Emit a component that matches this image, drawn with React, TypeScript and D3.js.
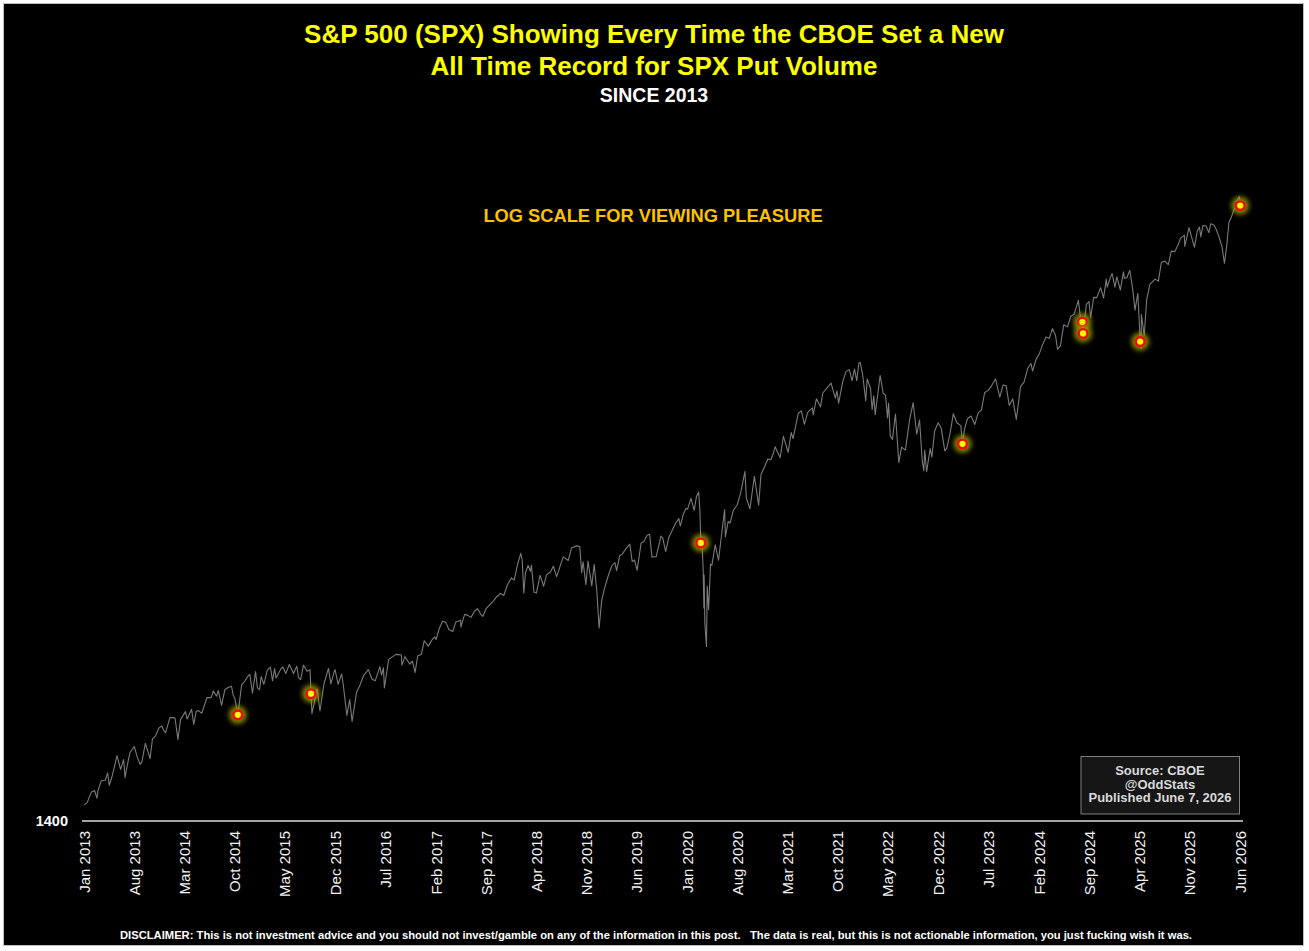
import React from 'react';
import * as d3 from 'd3';

// SPX closes (approx.) per year, [month-day, value]
const spx2013: [string, number][] = [
  ['01-02', 1462], ['01-15', 1472], ['02-01', 1513], ['02-15', 1519], ['02-25', 1488], ['03-01', 1518], ['03-15', 1560],
  ['04-01', 1562], ['04-11', 1593], ['04-18', 1541], ['05-01', 1582], ['05-21', 1669], ['06-05', 1608], ['06-18', 1651],
  ['06-24', 1573], ['07-01', 1614], ['07-15', 1683], ['08-02', 1710], ['08-15', 1661], ['08-27', 1630], ['09-03', 1640],
  ['09-18', 1725], ['10-08', 1655], ['10-18', 1745], ['11-01', 1761], ['11-15', 1798], ['11-27', 1807], ['12-05', 1785],
  ['12-13', 1775], ['12-31', 1848]
];
const spx2014: [string, number][] = [
  ['01-15', 1848], ['01-22', 1845], ['02-03', 1742], ['02-14', 1838], ['03-07', 1878], ['03-14', 1841], ['04-02', 1890],
  ['04-11', 1815], ['04-22', 1880], ['05-01', 1883], ['05-15', 1870], ['06-06', 1950], ['06-24', 1950], ['07-03', 1985],
  ['07-17', 1958], ['07-24', 1988], ['08-07', 1910], ['08-21', 1992], ['09-02', 2002], ['09-18', 2011], ['09-25', 1965],
  ['10-02', 1946], ['10-15', 1862], ['10-31', 2018], ['11-14', 2039], ['11-28', 2068], ['12-05', 2075], ['12-16', 1973],
  ['12-29', 2091]
];
const spx2015: [string, number][] = [
  ['01-06', 2002], ['01-15', 1992], ['01-22', 2063], ['02-02', 2021], ['02-17', 2100], ['03-02', 2117], ['03-11', 2040],
  ['03-20', 2108], ['03-26', 2056], ['04-15', 2106], ['04-24', 2117], ['05-06', 2080], ['05-21', 2131], ['06-08', 2080],
  ['06-22', 2122], ['06-29', 2058], ['07-08', 2046], ['07-20', 2128], ['08-04', 2093], ['08-17', 2102], ['08-21', 1971],
  ['08-25', 1868], ['09-16', 1996], ['09-28', 1881], ['10-15', 2023], ['11-03', 2109], ['11-13', 2023], ['11-27', 2090],
  ['12-01', 2102], ['12-14', 2021], ['12-29', 2078]
];
const spx2016: [string, number][] = [
  ['01-05', 2016], ['01-20', 1859], ['02-01', 1940], ['02-11', 1829], ['03-01', 1978], ['03-15', 2015], ['04-01', 2072],
  ['04-20', 2102], ['05-05', 2050], ['05-19', 2040], ['06-08', 2119], ['06-15', 2072], ['06-23', 2113], ['06-27', 2001],
  ['07-15', 2161], ['08-15', 2190], ['09-07', 2186], ['09-09', 2128], ['09-22', 2177], ['10-13', 2133], ['10-24', 2151],
  ['11-04', 2085], ['11-15', 2180], ['12-01', 2191], ['12-13', 2272], ['12-30', 2239]
];
const spx2017: [string, number][] = [
  ['01-13', 2274], ['01-26', 2296], ['02-01', 2279], ['02-15', 2349], ['03-01', 2395], ['03-15', 2385], ['03-27', 2341],
  ['04-13', 2329], ['04-25', 2388], ['05-16', 2400], ['05-17', 2357], ['06-02', 2439], ['06-15', 2432], ['06-29', 2419],
  ['07-14', 2459], ['07-26', 2477], ['08-10', 2438], ['08-18', 2425], ['09-01', 2476], ['09-15', 2500], ['10-02', 2529],
  ['10-16', 2557], ['11-01', 2579], ['11-15', 2565], ['12-01', 2642], ['12-18', 2690], ['12-29', 2674]
];
const spx2018: [string, number][] = [
  ['01-12', 2786], ['01-26', 2873], ['02-01', 2821], ['02-08', 2581], ['02-15', 2731], ['02-26', 2780], ['03-08', 2738],
  ['03-12', 2783], ['03-23', 2588], ['04-02', 2582], ['04-18', 2708], ['05-03', 2630], ['05-15', 2711], ['06-01', 2734],
  ['06-13', 2775], ['06-27', 2699], ['07-16', 2798], ['07-25', 2846], ['08-15', 2818], ['08-29', 2914], ['09-20', 2931],
  ['10-03', 2926], ['10-11', 2728], ['10-17', 2809], ['10-29', 2641], ['11-07', 2814], ['11-23', 2633], ['12-03', 2790],
  ['12-14', 2600], ['12-24', 2351]
];
const spx2019: [string, number][] = [
  ['01-04', 2532], ['01-15', 2610], ['02-01', 2707], ['02-15', 2775], ['03-01', 2803], ['03-08', 2743], ['03-21', 2854],
  ['04-01', 2867], ['04-15', 2905], ['05-03', 2945], ['05-13', 2811], ['05-23', 2822], ['06-03', 2744], ['06-20', 2954],
  ['07-01', 2964], ['07-15', 3014], ['07-26', 3025], ['08-05', 2844], ['08-15', 2847], ['08-23', 2847], ['09-12', 3009],
  ['09-20', 2992], ['10-02', 2887], ['10-15', 2996], ['11-01', 3066], ['11-15', 3120], ['11-27', 3153], ['12-03', 3093],
  ['12-16', 3191], ['12-27', 3240]
];
const spx2020: [string, number][] = [
  ['01-03', 3235], ['01-17', 3330], ['01-31', 3225], ['02-10', 3352], ['02-19', 3386], ['02-24', 3226], ['02-28', 2954],
  ['03-03', 3003], ['03-09', 2747], ['03-12', 2481], ['03-13', 2711], ['03-16', 2386], ['03-23', 2237], ['03-26', 2630],
  ['04-01', 2470], ['04-09', 2790], ['04-15', 2783], ['04-29', 2940], ['05-13', 2820], ['05-27', 3036], ['06-08', 3232],
  ['06-11', 3002], ['06-23', 3131], ['07-01', 3115], ['07-15', 3227], ['07-31', 3271], ['08-14', 3373], ['09-02', 3580],
  ['09-08', 3332], ['09-23', 3237], ['10-12', 3534], ['10-30', 3270], ['11-09', 3550], ['11-25', 3630], ['12-08', 3702],
  ['12-21', 3694], ['12-31', 3756]
];
const spx2021: [string, number][] = [
  ['01-08', 3824], ['01-29', 3714], ['02-12', 3934], ['03-04', 3768], ['03-17', 3974], ['03-25', 3910], ['04-16', 4185],
  ['04-29', 4211], ['05-12', 4063], ['05-26', 4195], ['06-15', 4246], ['06-18', 4166], ['07-02', 4352], ['07-19', 4258],
  ['07-29', 4419], ['08-16', 4479], ['09-02', 4537], ['09-20', 4358], ['09-27', 4443], ['10-04', 4300], ['10-21', 4549],
  ['11-04', 4680], ['11-18', 4705], ['11-30', 4567], ['12-10', 4712], ['12-20', 4568], ['12-29', 4793]
];
const spx2022: [string, number][] = [
  ['01-03', 4797], ['01-13', 4659], ['01-27', 4326], ['02-02', 4589], ['02-16', 4475], ['02-23', 4225], ['03-02', 4387],
  ['03-08', 4170], ['03-29', 4632], ['04-11', 4413], ['04-21', 4394], ['04-29', 4132], ['05-04', 4300], ['05-11', 3935],
  ['05-20', 3901], ['06-02', 4177], ['06-16', 3666], ['06-28', 3821], ['07-14', 3790], ['08-01', 4118], ['08-16', 4305],
  ['08-31', 3955], ['09-12', 4110], ['09-23', 3693], ['09-30', 3586], ['10-04', 3791], ['10-12', 3577], ['10-27', 3807],
  ['11-03', 3720], ['11-15', 3992], ['11-30', 4080], ['12-13', 4019], ['12-28', 3783]
];
const spx2023: [string, number][] = [
  ['01-05', 3808], ['01-20', 3972], ['02-02', 4180], ['02-17', 4079], ['03-06', 4048], ['03-13', 3855], ['03-21', 4002],
  ['04-03', 4124], ['04-18', 4154], ['05-04', 4061], ['05-19', 4192], ['06-01', 4221], ['06-15', 4425], ['06-30', 4450],
  ['07-14', 4505], ['07-31', 4589], ['08-18', 4370], ['09-01', 4515], ['09-14', 4505], ['09-27', 4274], ['10-12', 4350],
  ['10-27', 4117], ['11-14', 4496], ['11-29', 4551], ['12-14', 4719], ['12-28', 4783]
];
const spx2024: [string, number][] = [
  ['01-04', 4688], ['01-19', 4840], ['02-01', 4906], ['02-15', 5029], ['03-01', 5137], ['03-15', 5117], ['03-28', 5254],
  ['04-10', 5161], ['04-19', 4967], ['05-01', 5018], ['05-15', 5308], ['05-31', 5278], ['06-14', 5431], ['06-28', 5460],
  ['07-16', 5667], ['07-25', 5400], ['08-02', 5346], ['08-05', 5186], ['08-19', 5608], ['08-30', 5648], ['09-06', 5408],
  ['09-19', 5713], ['10-02', 5709], ['10-18', 5864], ['10-31', 5705], ['11-11', 6001], ['11-15', 5870], ['11-29', 6032],
  ['12-06', 6090], ['12-18', 5872], ['12-26', 6037]
];
const spx2025: [string, number][] = [
  ['01-10', 5827], ['01-23', 6119], ['01-27', 6012], ['02-07', 6026], ['02-19', 6144], ['03-03', 5849], ['03-13', 5521],
  ['03-25', 5777], ['04-04', 5074], ['04-08', 4982], ['04-09', 5457], ['04-21', 5158], ['05-02', 5687], ['05-15', 5916],
  ['06-06', 6000], ['06-20', 5968], ['07-03', 6279], ['07-18', 6297], ['08-01', 6238], ['08-14', 6469], ['08-29', 6460],
  ['09-12', 6584], ['09-22', 6693], ['10-08', 6753], ['10-10', 6552], ['10-28', 6890], ['11-07', 6729], ['11-20', 6538],
  ['12-02', 6829], ['12-11', 6901], ['12-17', 6721], ['12-26', 6930]
];
const spx2026: [string, number][] = [
  ['01-08', 6920], ['01-20', 6800], ['01-28', 6960], ['02-10', 6940], ['02-20', 6860], ['03-04', 6720], ['03-17', 6540],
  ['03-27', 6260], ['04-06', 6570], ['04-15', 6990], ['04-22', 7050], ['05-05', 7210], ['05-12', 7270], ['05-22', 7440],
  ['05-29', 7490], ['06-02', 7310], ['06-05', 7420]
];

const yearData: [number, [string, number][]][] = [
  [2013, spx2013], [2014, spx2014], [2015, spx2015], [2016, spx2016], [2017, spx2017], [2018, spx2018], [2019, spx2019],
  [2020, spx2020], [2021, spx2021], [2022, spx2022], [2023, spx2023], [2024, spx2024], [2025, spx2025], [2026, spx2026]
];

// days CBOE set a new all-time record for SPX put volume
const recordDays = [
  '2014-10-15', '2015-08-21', '2020-02-28', '2023-03-13', '2024-08-02', '2024-08-05', '2025-04-04', '2026-06-02'
];

const xTickLabels = [
  'Jan 2013', 'Aug 2013', 'Mar 2014', 'Oct 2014', 'May 2015', 'Dec 2015', 'Jul 2016', 'Feb 2017',
  'Sep 2017', 'Apr 2018', 'Nov 2018', 'Jun 2019', 'Jan 2020', 'Aug 2020', 'Mar 2021', 'Oct 2021',
  'May 2022', 'Dec 2022', 'Jul 2023', 'Feb 2024', 'Sep 2024', 'Apr 2025', 'Nov 2025', 'Jun 2026'
];

const titleLines = ['S&P 500 (SPX) Showing Every Time the CBOE Set a New', 'All Time Record for SPX Put Volume'];
const sourceLines = ['Source: CBOE', '@OddStats', 'Published June 7, 2026'];
const disclaimer = 'DISCLAIMER: This is not investment advice and you should not invest/gamble on any of the information in this post.   The data is real, but this is not actionable information, you just fucking wish it was.';

const W = 1309;
const H = 951;
const FONT = '"Liberation Sans", Arial, Helvetica, sans-serif';

const parseDay = d3.timeParse('%Y-%m-%d');
const parseTick = d3.timeParse('%b %Y');

interface Pt { key: string; date: Date; value: number; }

const series: Pt[] = yearData.flatMap(([yr, rows]) =>
  rows.map(([md, v]) => {
    const key = `${yr}-${md}`;
    return { key, date: parseDay(key) as Date, value: v };
  })
);

export default function App() {
  const x = d3.scaleTime()
    .domain([parseTick('Jan 2013') as Date, parseTick('Jun 2026') as Date])
    .range([84, 1240]);
  // log scale: 1400 at the baseline
  const y = d3.scaleLog()
    .domain([1400, 8000])
    .range([821, 172]);

  const line = d3.line<Pt>()
    .x(d => x(d.date))
    .y(d => y(d.value));

  const markers = recordDays
    .map(k => series.find(p => p.key === k))
    .filter((p): p is Pt => !!p);

  return (
    <svg width={W} height={H} style={{ position: 'absolute', left: 0, top: 0, display: 'block' }}
      fontFamily={FONT}>
      <defs>
        <filter id="glow" x="-100%" y="-100%" width="300%" height="300%">
          <feGaussianBlur stdDeviation="2.6" />
        </filter>
      </defs>
      <rect x={0} y={0} width={W} height={H} fill="#ffffff" />
      <rect x={3.5} y={3.5} width={1300} height={942} fill="#000000" stroke="#bfbfbf" strokeWidth={1} />

      {/* titles */}
      {titleLines.map((t, i) => (
        <text key={t} x={654} y={43 + i * 32} textAnchor="middle" fill="#ffff00"
          fontSize={26} fontWeight="bold">{t}</text>
      ))}
      <text x={654} y={102} textAnchor="middle" fill="#ffffff" fontSize={19.5} fontWeight="bold">SINCE 2013</text>
      <text x={653} y={222} textAnchor="middle" fill="#ffc000" fontSize={18.3} fontWeight="bold">
        LOG SCALE FOR VIEWING PLEASURE
      </text>

      {/* price line */}
      <path d={line(series) || ''} fill="none" stroke="#7a7a7a" strokeWidth={1.1} strokeLinejoin="round" />

      {/* axis */}
      <line x1={82} x2={1243} y1={821} y2={821} stroke="#d9d9d9" strokeWidth={1.5} />
      <text x={68} y={826} textAnchor="end" fill="#ffffff" fontSize={14.5} fontWeight="bold">1400</text>
      {xTickLabels.map(lbl => {
        const tx = x(parseTick(lbl) as Date);
        return (
          <text key={lbl} transform={`translate(${tx + 5.5},831) rotate(-90)`} textAnchor="end"
            fill="#f2f2f2" fontSize={15}>{lbl}</text>
        );
      })}

      {/* record markers */}
      {markers.map(p => (
        <g key={p.key} transform={`translate(${x(p.date)},${y(p.value)})`}>
          <circle r={9} fill="#9c9c00" opacity={0.85} filter="url(#glow)" />
          <circle r={4.3} fill="#ffff00" stroke="#ff0000" strokeWidth={2.3} />
        </g>
      ))}

      {/* source box */}
      <rect x={1081} y={756.5} width={158.5} height={57.5} fill="#161616" stroke="#7f7f7f" strokeWidth={1} />
      {sourceLines.map((t, i) => (
        <text key={t} x={1160} y={775 + i * 13.7} textAnchor="middle" fill="#d9d9d9"
          fontSize={13} fontWeight="bold">{t}</text>
      ))}

      {/* disclaimer */}
      <text x={120} y={939} fill="#ffffff" fontSize={11} fontWeight="bold" textLength={1072}
        lengthAdjust="spacingAndGlyphs" style={{ whiteSpace: 'pre' }}>{disclaimer}</text>
    </svg>
  );
}
